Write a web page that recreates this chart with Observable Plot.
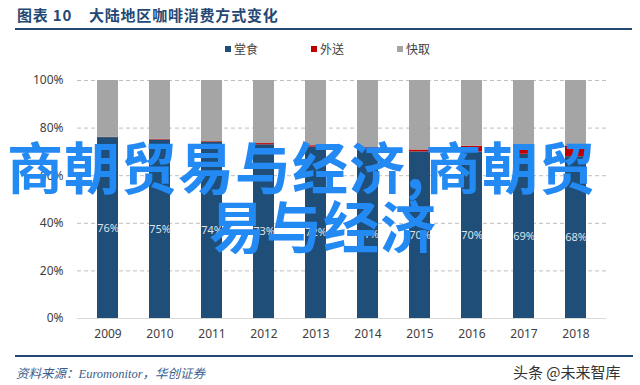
<!DOCTYPE html>
<html>
<head>
<meta charset="utf-8">
<script src="https://cdn.jsdelivr.net/npm/d3@7"></script>
<script src="https://cdn.jsdelivr.net/npm/@observablehq/plot@0.6"></script>
<style>
  html, body { margin: 0; padding: 0; background: #fff; }
  #page { position: relative; width: 640px; height: 385px; overflow: hidden; font-family: "Noto Sans CJK SC", "Noto Sans", sans-serif; }
  #title { position: absolute; left: 17px; top: 5px; font-size: 15px; font-weight: 700; color: #244874; letter-spacing: 0.8px; white-space: pre; line-height: 20px; }
  #titleRule { position: absolute; left: 15px; top: 28px; width: 617px; height: 2px; background: #244874; }
  #legend { position: absolute; left: 225px; top: 41px; display: flex; gap: 53px; font-size: 12px; color: #404040; line-height: 16px; }
  #legend .item { display: flex; align-items: center; }
  #legend .sw { width: 6px; height: 6px; margin-right: 3px; }
  #chart { position: absolute; left: 0; top: 62px; }
  #bottomRule { position: absolute; left: 15px; top: 355px; width: 618px; height: 2px; background: #244874; }
  #source { position: absolute; left: 16px; top: 363px; font-size: 12.5px; font-style: italic; color: #3c5d8c; font-family: "Liberation Serif", "Noto Sans CJK SC", serif; white-space: pre; }
  #wm { position: absolute; left: 513px; top: 361px; font-size: 15px; color: #333; white-space: pre; }
  .overlay { position: absolute; font-size: 56px; font-weight: 700; color: #2389f3; line-height: 56px; white-space: pre; z-index: 5; letter-spacing: 1px; }
</style>
</head>
<body>
<div id="page">
  <div id="title">图表 10    大陆地区咖啡消费方式变化</div>
  <div id="titleRule"></div>
  <div id="legend"></div>
  <div id="chart"></div>
  <div id="bottomRule"></div>
  <div id="source">资料来源：Euromonitor，华创证券</div>
  <div id="wm">头条 @未来智库</div>
  <div class="overlay" id="ov1" style="left:7px; top:137px;">商朝贸易与经济,商朝贸</div>
  <div class="overlay" id="ov2" style="left:209px; top:196px;">易与经济</div>
</div>
<script>
const years = ["2009","2010","2011","2012","2013","2014","2015","2016","2017","2018"];
const series = ["堂食","外送","快取"];
const seriesColors = ["#1f4e79","#c00000","#a5a5a5"];
const dineIn   = [76, 75, 74, 73, 72, 71, 70, 70, 69, 68];
const delivery = [0.1, 0.3, 0.3, 0.5, 0.6, 0.8, 0.8, 2.4, 1.7, 4.5];
const takeaway = [23.9, 24.7, 25.7, 26.5, 27.4, 28.2, 29.2, 27.6, 29.3, 27.5];
const yTicks = [0, 20, 40, 60, 80, 100];

const rows = [];
years.forEach((yr, i) => {
  rows.push({year: yr, series: series[0], value: dineIn[i]});
  rows.push({year: yr, series: series[1], value: delivery[i]});
  rows.push({year: yr, series: series[2], value: takeaway[i]});
});
const labelRows = years.map((yr, i) => ({year: yr, value: dineIn[i]}));

// legend
const leg = document.getElementById("legend");
series.forEach((s, i) => {
  const it = document.createElement("div");
  it.className = "item";
  it.innerHTML = `<span class="sw" style="background:${seriesColors[i]}"></span><span>${s}</span>`;
  leg.appendChild(it);
});

const chart = Plot.plot({
  width: 640,
  height: 285,
  marginTop: 18,
  marginBottom: 29,
  marginLeft: 77,
  marginRight: 34,
  style: {fontFamily: "'Noto Sans', 'Open Sans', sans-serif", fontSize: "12px", color: "#404040", background: "transparent"},
  x: {domain: years, paddingInner: 0.6, paddingOuter: 0.3, label: null, tickSize: 0, tickPadding: 11},
  y: {domain: [0, 100], ticks: yTicks, tickFormat: d => d + "%", label: null, tickSize: 0, tickPadding: 14},
  color: {domain: series, range: seriesColors},
  marks: [
    Plot.ruleY(yTicks.filter(d => d > 0), {stroke: "#bfbfbf", strokeWidth: 1, strokeDasharray: "4,3"}),
    Plot.ruleY([0], {stroke: "#d9d9d9", strokeWidth: 1}),
    Plot.barY(rows, {x: "year", y: "value", fill: "series", order: series}),
    Plot.text(labelRows, {x: "year", y: d => d.value / 2, text: d => d.value + "%", fill: "#dde4ec", fontSize: 11})
  ]
});
document.getElementById("chart").appendChild(chart);
</script>
</body>
</html>
